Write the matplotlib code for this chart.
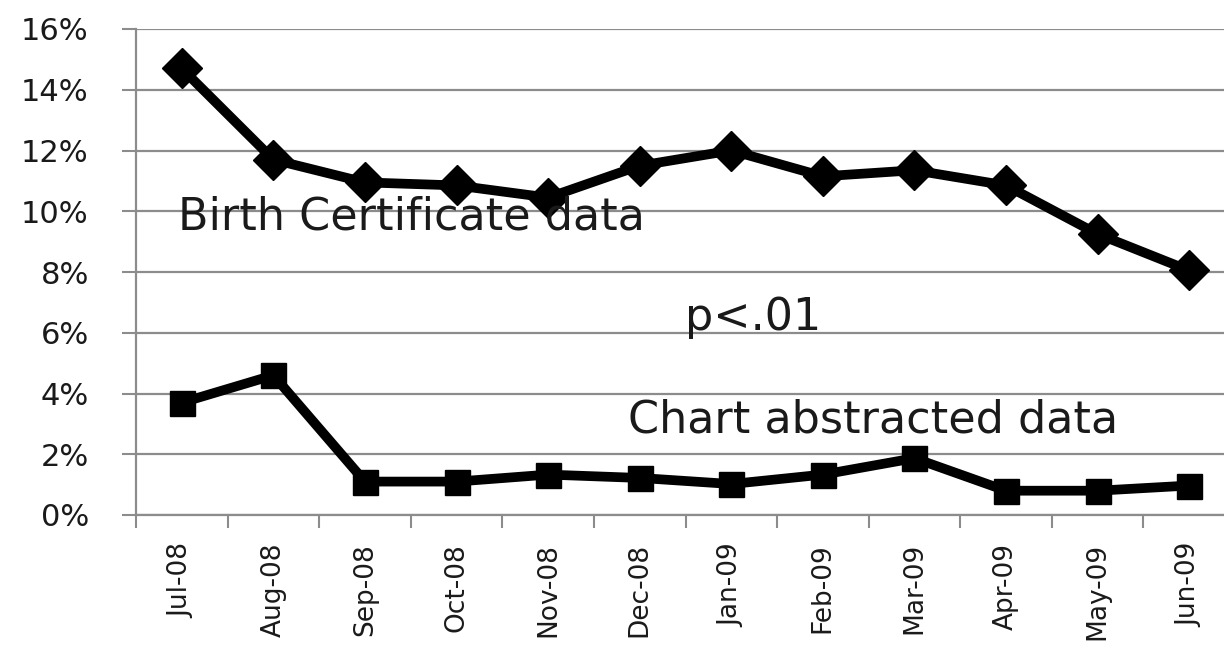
import numpy as np
import matplotlib
matplotlib.use('Agg')
import matplotlib.pyplot as plt
from matplotlib.ticker import FuncFormatter, FixedLocator

plt.rcParams['font.family'] = ['DejaVu Sans']

months = ['Jul-08', 'Aug-08', 'Sep-08', 'Oct-08', 'Nov-08', 'Dec-08',
          'Jan-09', 'Feb-09', 'Mar-09', 'Apr-09', 'May-09', 'Jun-09']
birth_cert = [14.7, 11.7, 10.95, 10.85, 10.45, 11.5, 12.0, 11.15, 11.35, 10.85, 9.25, 8.05]
chart_abs = [3.7, 4.6, 1.1, 1.1, 1.33, 1.22, 1.02, 1.33, 1.87, 0.8, 0.8, 0.97]

fig = plt.figure(figsize=(12.24, 6.49), dpi=100)
ax = fig.add_axes([136/1224, 134/649, (1235-136)/1224, 486/649])

x = np.arange(len(months))
ax.plot(x, birth_cert, color='black', lw=7, marker='D', ms=20, zorder=3)
ax.plot(x, chart_abs, color='black', lw=7, marker='s', ms=18, zorder=3)

ax.set_ylim(0, 16)
ax.set_xlim(-0.5, 11.5)
ax.set_yticks(np.arange(0, 17, 2))
ax.yaxis.set_major_formatter(FuncFormatter(lambda v, p: f'{int(v)}%'))
ax.grid(axis='y', color='#8c8c8c', lw=1.6)
ax.set_axisbelow(True)

ax.set_xticks(x)
ax.set_xticklabels(months, rotation=90, fontsize=19, color='#1a1a1a')
ax.xaxis.set_minor_locator(FixedLocator(np.arange(-0.5, 11.6, 1)))
ax.tick_params(axis='x', which='major', length=0, pad=20)
ax.tick_params(axis='x', which='minor', length=9, width=1.5, color='#8c8c8c')
ax.tick_params(axis='y', length=10, width=1.5, color='#8c8c8c', labelsize=22,
               labelcolor='#1a1a1a', pad=24)

for s in ['top', 'right']:
    ax.spines[s].set_visible(False)
for s in ['left', 'bottom']:
    ax.spines[s].set_color('#8c8c8c')
    ax.spines[s].set_linewidth(1.6)

ax.text(-0.04, 9.4, 'Birth Certificate data', fontsize=32, color='#1a1a1a', va='baseline')
ax.text(5.49, 6.08, 'p<.01', fontsize=32, color='#1a1a1a', va='baseline')
ax.text(4.87, 2.7, 'Chart abstracted data', fontsize=32, color='#1a1a1a', va='baseline')

fig.savefig('out.png', dpi=100)
